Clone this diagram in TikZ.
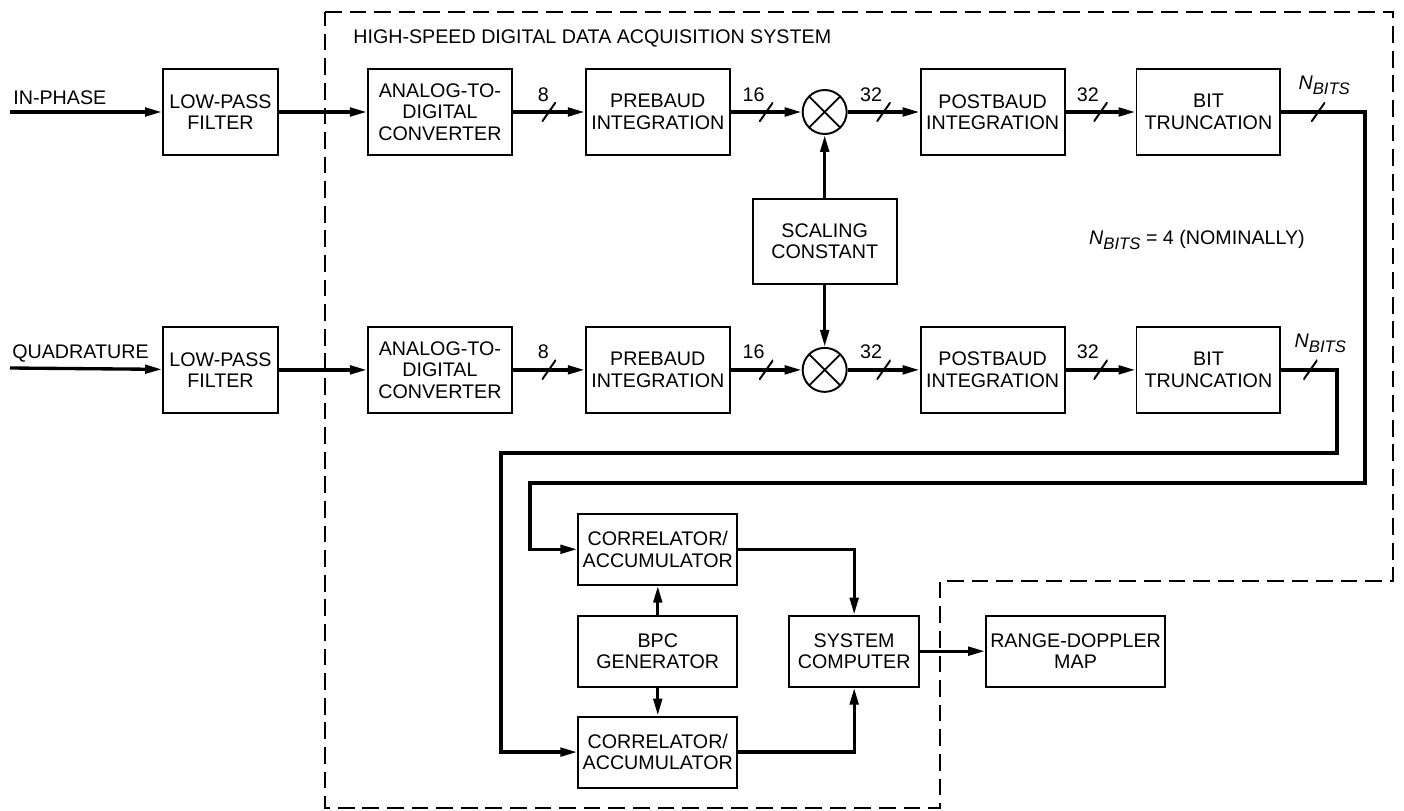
\documentclass[tikz,border=0pt]{standalone}
\usepackage{fontspec}
\setmainfont{Liberation Sans}
\usepackage{tikz}
\usetikzlibrary{arrows.meta,positioning}

\newcommand{\nbits}{\textit{N}\raisebox{-0.55ex}{\fontsize{9.5}{10}\selectfont\textit{BITS}}}

\begin{document}
\begin{tikzpicture}[
    x=0.02cm, y=-0.02cm,
    font=\fontsize{11.2}{12.2}\selectfont,
    node distance=1.44cm,
    box/.style={
        rectangle,
        draw,
        line width=1.1pt,
        align=center,
        inner sep=1pt,
        minimum width=2.88cm,
        minimum height=1.72cm
    },
    lowbox/.style={
        box,
        minimum height=1.42cm
    },
    mixer/.style={
        circle,
        draw,
        line width=1.1pt,
        inner sep=0pt,
        minimum size=0.88cm,
        path picture={
            \draw[-, line width=1pt]
                (path picture bounding box.north west) -- (path picture bounding box.south east)
                (path picture bounding box.south west) -- (path picture bounding box.north east);
        }
    },
    bus/.style={
        inner sep=0pt,
        minimum width=0.28cm,
        minimum height=0.4cm,
        path picture={
            \draw[-, line width=1.1pt]
                (path picture bounding box.south west) -- (path picture bounding box.north east);
        }
    },
    num/.style={inner sep=0pt, anchor=south east, yshift=-1.5pt},
    tag/.style={inner sep=0pt, anchor=base west},
    arrow/.style={-{Triangle[length=3.4mm,width=1.7mm]}, line width=1.9pt},
    sysline/.style={line width=1.4pt, dash pattern=on 9.5pt off 4.5pt}
]
\useasboundingbox (0,0) rectangle (1404,811);

% system boundary
\draw[sysline] (325,12) -- (1393,12) -- (1393,581) -- (940,581)
    -- (940,808) -- (325,808) -- cycle;
\node[tag] (title) at (353,44) {HIGH-SPEED DIGITAL DATA ACQUISITION SYSTEM};

% in-phase row
\node[box, minimum width=2.3cm] (lpf1) at (220.5,112) {LOW-PASS\\FILTER};
\node[box, right=1.76cm of lpf1] (adc1) {ANALOG-TO-\\DIGITAL\\CONVERTER};
\node[box, right=of adc1] (pre1) {PREBAUD\\INTEGRATION};
\node[mixer, right=1.42cm of pre1] (mul1) {};
\node[box, right=of mul1] (post1) {POSTBAUD\\INTEGRATION};
\node[box, right=1.40cm of post1] (bit1) {BIT\\TRUNCATION};

% quadrature row
\node[box, minimum width=2.3cm, below=3.4cm of lpf1] (lpf2) {LOW-PASS\\FILTER};
\node[box, right=1.76cm of lpf2] (adc2) {ANALOG-TO-\\DIGITAL\\CONVERTER};
\node[box, right=of adc2] (pre2) {PREBAUD\\INTEGRATION};
\node[mixer, right=1.42cm of pre2] (mul2) {};
\node[box, right=of mul2] (post2) {POSTBAUD\\INTEGRATION};
\node[box, right=1.40cm of post2] (bit2) {BIT\\TRUNCATION};

\node[box, minimum height=1.7cm, below=1.26cm of mul1] (scale) {SCALING\\CONSTANT};
\node (note) at (1197,240) {\nbits{} = 4 (NOMINALLY)};

% correlation and output
\node[lowbox, minimum width=3.18cm, below=1.98cm of pre2] (corr1) {CORRELATOR/\\ACCUMULATOR};
\node[lowbox, minimum width=3.18cm, below=0.58cm of corr1] (bpc) {BPC\\GENERATOR};
\node[lowbox, minimum width=3.18cm, below=0.56cm of bpc] (corr2) {CORRELATOR/\\ACCUMULATOR};
\node[lowbox, minimum width=2.6cm, right=1.0cm of bpc] (sys) {SYSTEM\\COMPUTER};
\node[lowbox, minimum width=3.58cm, right=1.3cm of sys] (rdm) {RANGE-DOPPLER\\MAP};

% inputs
\coordinate (inI) at (10,112);
\coordinate (inQ) at (10,368);
\node[tag] (lblI) at (13,105) {IN-PHASE};
\node[tag] (lblQ) at (12,358) {QUADRATURE};

% bends of the long returns
\coordinate (cI2) at (1365,483);
\coordinate (cI3) at (530,483);
\coordinate (cQ2) at (1337,453);
\coordinate (cQ3) at (501,453);

% arrows, in-phase
\draw[arrow] (inI) -- (lpf1);
\draw[arrow] (lpf1) -- (adc1);
\draw[arrow] (adc1) -- node[bus, label={[num, xshift=1pt]north:8}] {} (pre1);
\draw[arrow] (pre1) -- node[bus, label={[num]north:16}] {} (mul1);
\draw[arrow] (mul1) -- node[bus, label={[num]north:32}] {} (post1);
\draw[arrow] (post1) -- node[bus, label={[num]north:32}] {} (bit1);
\draw[arrow] (bit1.east) -| node[bus, pos=0.22,
    label={[num, anchor=south, xshift=0.12cm, yshift=3.5pt]north:\nbits}] {} (cI2)
    -- (cI3) |- (corr1.west);

% arrows, quadrature
\draw[arrow] (inQ) -- (lpf2);
\draw[arrow] (lpf2) -- (adc2);
\draw[arrow] (adc2) -- node[bus, label={[num, xshift=1pt]north:8}] {} (pre2);
\draw[arrow] (pre2) -- node[bus, label={[num]north:16}] {} (mul2);
\draw[arrow] (mul2) -- node[bus, label={[num]north:32}] {} (post2);
\draw[arrow] (post2) -- node[bus, label={[num]north:32}] {} (bit2);
\draw[arrow] (bit2.east) -| node[bus, pos=0.26,
    label={[num, anchor=south, xshift=0.2cm, yshift=3.5pt]north:\nbits}] {} (cQ2)
    -- (cQ3) |- (corr2.west);

% scaling constant
\draw[arrow] (scale) -- (mul1);
\draw[arrow] (scale) -- (mul2);

% correlators
\draw[arrow] (bpc) -- (corr1);
\draw[arrow] (bpc) -- (corr2);
\draw[arrow] (corr1.east) -| (sys.north);
\draw[arrow] (corr2.east) -| (sys.south);
\draw[arrow] (sys) -- (rdm);

\end{tikzpicture}
\end{document}
